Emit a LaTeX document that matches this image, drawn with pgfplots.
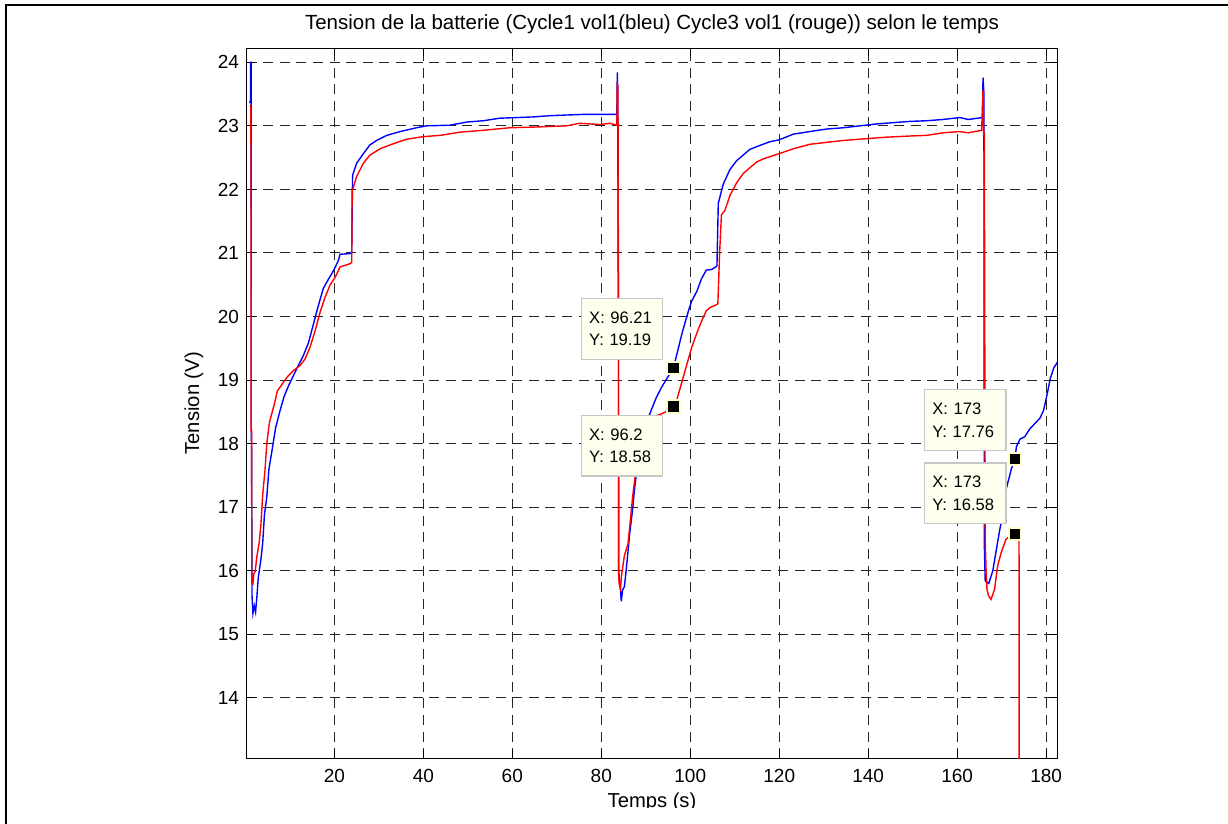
\documentclass[border=0pt]{standalone}
\usepackage{fontspec}
\setmainfont{Liberation Sans}
\usepackage{pgfplots}
\pgfplotsset{compat=1.18}
\definecolor{tipbg}{HTML}{FFFFEE}
\definecolor{tipedge}{HTML}{FFFFCC}
\tikzset{tip/.style={draw=black!22, fill=tipbg, line width=0.6pt, font=\fontsize{8.3}{11.3}\selectfont,
    align=left, text width=32.8pt, inner xsep=4pt, inner ysep=0pt, minimum height=30.3pt}}

\begin{document}
\begin{tikzpicture}
% 1 px of the reference = 0.5pt; origin at the lower left corner of the axis
\path[use as bounding box] (-123.35pt,-32.85pt) rectangle (490.65pt,379.15pt);
\begin{axis}[
  scale only axis, width=405.3pt, height=355pt,
  at={(0pt,0pt)}, anchor=south west,
  xmin=0.3, xmax=182.5, ymin=13.05, ymax=24.22,
  xtick={20,40,...,180}, ytick={14,15,...,24},
  tick align=inside, major tick length=4pt,
  grid=major,
  major grid style={black!85, line width=0.5pt, dash pattern=on 5pt off 3.3pt},
  axis line style={line width=0.6pt},
  tick style={black, line width=0.5pt},
  /pgf/number format/assume math mode=true,
  ticklabel style={font=\fontsize{9.5}{11}\selectfont},
  xticklabel style={anchor=north, inner sep=0pt, yshift=-5.5pt},
  yticklabel style={anchor=east, inner sep=0pt, xshift=-3.7pt},
  title={Tension de la batterie (Cycle1 vol1(bleu) Cycle3 vol1 (rouge)) selon le temps},
  every axis title/.style={at={(0.5,1)}, anchor=base, yshift=9.15pt, inner sep=0pt,
    font=\fontsize{10.25}{12}\selectfont},
  xlabel={Temps (s)}, ylabel={Tension (V)},
  every axis x label/.style={at={(axis description cs:0.5,-0.0697)}, anchor=base,
    inner sep=0pt, font=\fontsize{10.1}{12}\selectfont},
  every axis y label/.style={at={(axis description cs:-0.0588,0.5)}, rotate=90, anchor=base,
    inner sep=0pt, font=\fontsize{10.1}{12}\selectfont},
]
% Cycle1 vol1 (bleu)
\addplot[blue, line width=0.7pt] coordinates {
(1.0,23.36)(1.15,23.4)(1.2,24.0)(1.3,24.0)(1.33,18.2)(1.4,17.9)(1.5,15.6)(1.7,15.33)
(2.0,15.45)(2.3,15.35)(2.6,15.6)(2.9,15.89)(3.5,16.18)(3.9,16.44)(4.3,16.89)(4.8,17.15)
(5.3,17.6)(6.1,17.94)(6.8,18.25)(7.8,18.52)(8.7,18.74)(9.7,18.91)(10.8,19.07)(11.9,19.23)
(13.0,19.38)(14.2,19.59)(15.3,19.88)(16.4,20.17)(17.5,20.44)(18.7,20.59)(19.8,20.72)
(20.9,20.88)(21.3,20.98)(23.5,20.99)(23.9,21.0)(24.1,22.22)(25.0,22.41)(26.5,22.56)
(28.0,22.70)(29.5,22.77)(31.8,22.85)(34.8,22.91)(38.5,22.97)(40.7,23.0)(46.0,23.01)
(49.8,23.06)(53.5,23.08)(57.2,23.12)(61.0,23.13)(64.7,23.14)(68.5,23.16)(72.2,23.17)
(76.0,23.18)(83.5,23.18)(83.6,23.84)(83.7,23.5)(83.8,20.71)(83.85,20.7)(83.9,16.0)
(84.2,15.8)(84.5,15.52)(84.8,15.7)(85.2,15.75)(85.6,16.01)(86.4,16.59)(87.0,16.94)
(87.5,17.3)(88.2,17.7)(89.0,18.0)(90.0,18.3)(91.3,18.54)(92.4,18.73)(93.5,18.88)
(94.7,19.02)(96.21,19.19)(96.9,19.38)(98.2,19.75)(99.6,20.09)(100.3,20.24)(101.5,20.40)
(102.5,20.59)(103.6,20.73)(104.8,20.74)(105.7,20.78)(106.0,20.8)(106.3,21.78)(107.4,22.08)
(108.9,22.31)(110.4,22.45)(111.9,22.54)(113.4,22.63)(115.6,22.69)(117.9,22.75)(120.0,22.78)
(123.2,22.87)(126.9,22.91)(130.7,22.95)(134.4,22.97)(138.1,23.0)(141.9,23.03)(145.6,23.05)
(149.4,23.07)(153.1,23.08)(156.8,23.10)(160.6,23.13)(162.5,23.10)(165.7,23.13)(165.8,23.76)
(166.0,23.52)(166.1,16.4)(166.3,15.84)(167.1,15.80)(168.0,16.0)(168.7,16.29)(169.5,16.62)
(170.3,16.91)(171.0,17.28)(172.2,17.61)(173.0,17.76)(173.3,17.95)(174.1,18.07)(175.2,18.11)
(176.3,18.23)(177.5,18.32)(178.6,18.40)(179.4,18.52)(180.2,18.77)(180.9,19.02)(181.7,19.19)
(182.6,19.29)};
% Cycle3 vol1 (rouge)
\addplot[red, line width=0.7pt] coordinates {
(1.0,23.32)(1.25,23.3)(1.3,18.2)(1.4,18.2)(1.45,15.8)(1.7,15.79)(1.9,15.95)(2.2,15.99)
(2.6,16.23)(3.1,16.44)(3.5,16.73)(3.9,17.2)(4.4,17.57)(4.8,17.99)(5.4,18.33)(6.0,18.49)
(6.5,18.62)(7.2,18.83)(8.2,18.93)(9.3,19.04)(10.8,19.15)(12.3,19.23)(13.4,19.33)(14.5,19.51)
(15.7,19.78)(16.8,20.07)(17.9,20.30)(19.0,20.49)(20.2,20.62)(21.3,20.78)(23.5,20.83)
(23.9,20.85)(24.0,21.97)(25.0,22.20)(26.5,22.41)(28.0,22.54)(30.3,22.64)(33.3,22.72)
(36.3,22.79)(40.0,22.83)(43.8,22.85)(48.2,22.90)(53.5,22.93)(59.5,22.97)(64.7,22.98)
(72.2,23.0)(75.2,23.04)(79.7,23.02)(81.9,23.04)(83.5,23.01)(83.6,23.69)(83.75,23.6)
(83.85,20.7)(83.9,15.95)(84.0,15.8)(84.3,15.72)(84.6,15.95)(85.2,16.24)(86.0,16.42)
(86.5,16.77)(87.1,17.2)(87.9,17.64)(88.7,17.95)(89.6,18.2)(90.5,18.35)(91.5,18.42)
(93.2,18.46)(94.5,18.5)(96.2,18.58)(96.9,18.67)(98.4,19.04)(100.3,19.51)(101.8,19.8)
(102.5,19.92)(103.6,20.09)(104.4,20.14)(105.7,20.18)(106.2,20.2)(106.6,21.0)(107.0,21.6)
(107.8,21.67)(108.9,21.9)(110.4,22.1)(111.9,22.25)(113.4,22.34)(114.9,22.43)(116.4,22.48)
(118.6,22.53)(119.9,22.56)(123.2,22.64)(126.9,22.71)(130.7,22.74)(134.4,22.77)(140.0,22.8)
(143.7,22.82)(149.4,22.84)(153.1,22.85)(156.8,22.89)(160.6,22.91)(162.5,22.89)(165.5,22.93)
(165.8,23.57)(165.95,22.84)(166.1,22.9)(166.3,16.46)(166.5,16.0)(166.7,15.7)(167.1,15.6)
(167.6,15.55)(168.4,15.71)(169.1,16.08)(169.9,16.29)(171.0,16.5)(172.0,16.55)(173.0,16.58)
(173.9,16.55)(173.95,10)};
% data tips
\addplot[only marks, mark=square*, mark size=3.2pt,
  mark options={fill=black, draw=tipedge, line width=1pt}]
  coordinates {(96.21,19.19)(96.2,18.58)(173,17.76)(173,16.58)};
\node[tip, anchor=south east, xshift=-5pt, yshift=4.15pt] at (axis cs:96.21,19.19) {X: 96.21\\Y: 19.19};
\node[tip, anchor=north east, xshift=-5pt, yshift=-4pt] at (axis cs:96.2,18.58) {X: 96.2\\Y: 18.58};
\node[tip, anchor=south east, xshift=-4.25pt, yshift=4pt] at (axis cs:173,17.76) {X: 173\\Y: 17.76};
\node[tip, anchor=south east, xshift=-4.25pt, yshift=4.85pt] at (axis cs:173,16.58) {X: 173\\Y: 16.58};
\end{axis}
% the reference is cropped just under the x label baseline
\fill[white] (-118pt,-24.9pt) rectangle (495pt,-40pt);
\draw[line width=1pt] (-120.35pt,-40pt) -- (-120.35pt,376.65pt) -- (500pt,376.65pt);
\end{tikzpicture}
\end{document}
